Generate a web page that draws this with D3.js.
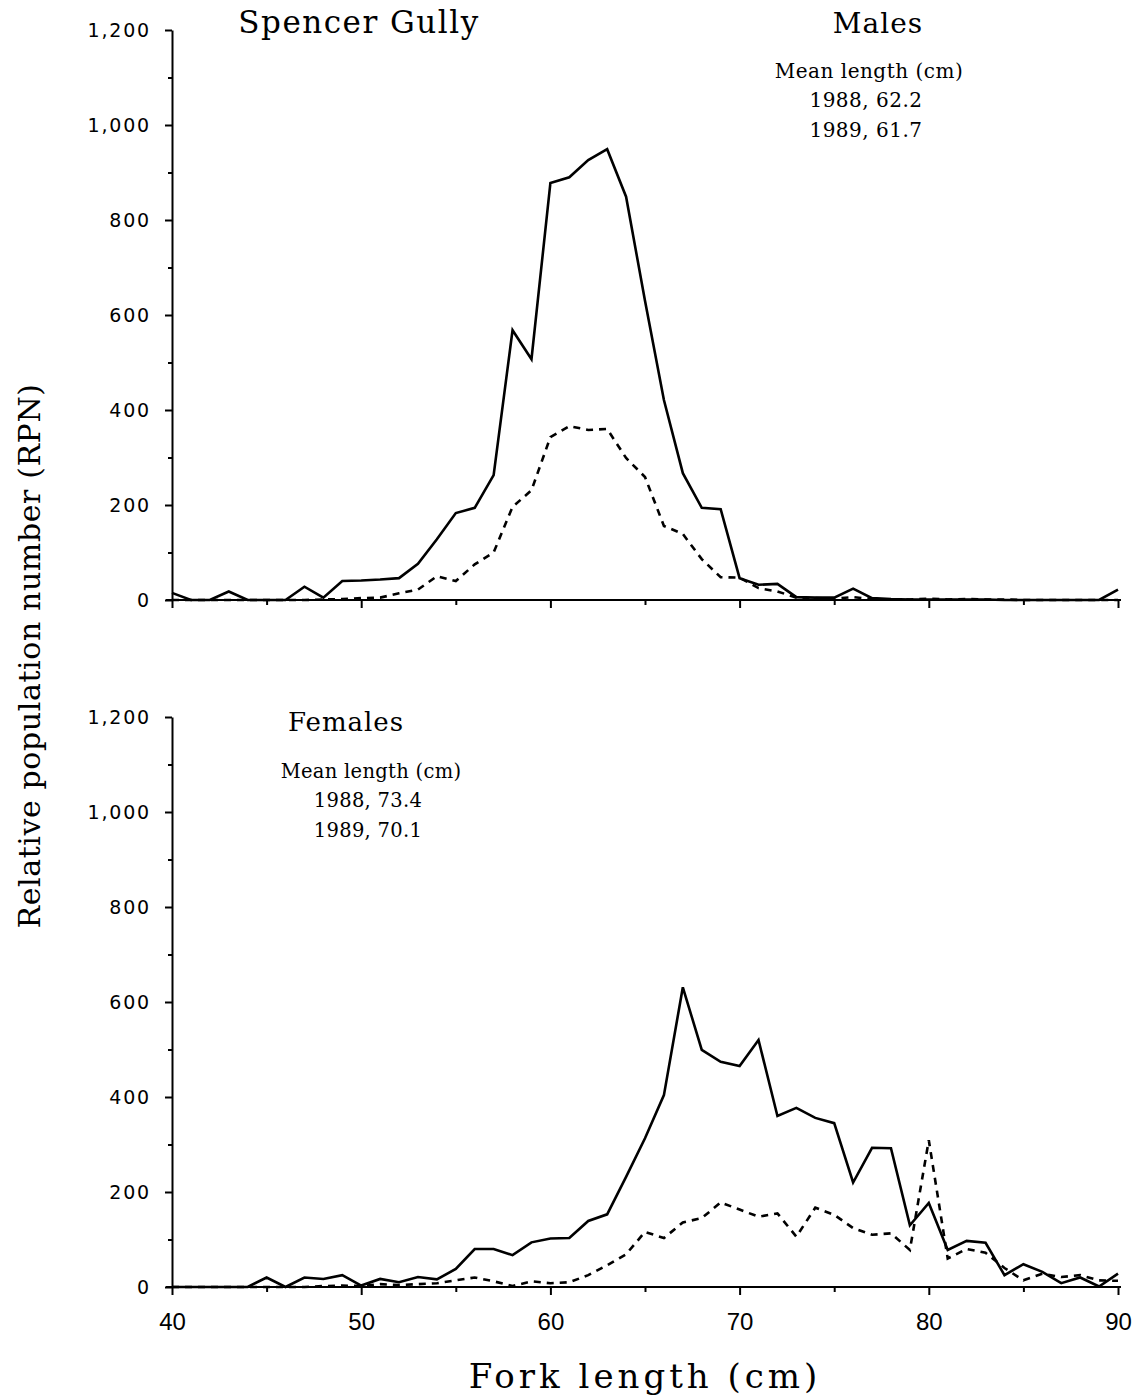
<!DOCTYPE html>
<html>
<head>
<meta charset="utf-8">
<script src="https://cdn.jsdelivr.net/npm/d3@7"></script>
<style>
  html, body { margin: 0; padding: 0; background: #fff; }
  svg { display: block; }
  .axis path, .axis line { stroke: #000; stroke-width: 2; }
  .ytick text { font-family: "DejaVu Sans", sans-serif; font-size: 19px; letter-spacing: 1.8px; fill: #000; }
  .xtick text { font-family: "Liberation Sans Narrow", "Liberation Sans", sans-serif; font-size: 24px; fill: #000; }
  .title { font-family: "DejaVu Serif", serif; fill: #000; }
</style>
</head>
<body>
<svg id="chart" width="1134" height="1399"></svg>
<script>
// Fork length classes (cm)
const lengths = [40,41,42,43,44,45,46,47,48,49,50,51,52,53,54,55,56,57,58,59,60,
                 61,62,63,64,65,66,67,68,69,70,71,72,73,74,75,76,77,78,79,80,
                 81,82,83,84,85,86,87,88,89,90];

// Males, relative population number by length class
const males1988 = [15,0,0,18,0,0,0,28,5,40,41,43,46,76,128,183,194,263,568,507,878,
                   890,926,949,849,630,421,267,194,191,46,32,34,6,5,5,24,4,2,1,1,
                   1,1,1,0,0,0,0,0,0,22];
const males1989 = [0,0,0,0,0,0,0,0,1,2,4,5,14,22,50,40,75,100,196,231,343,
                   366,358,360,299,259,156,139,86,48,47,25,18,5,4,3,6,2,1,1,3,
                   1,2,1,1,0,0,0,0,0,0];

// Females, relative population number by length class
const females1988 = [0,0,0,0,0,20,0,20,17,25,3,17,10,21,16,38,80,80,67,94,102,
                     103,139,153,232,313,404,631,499,474,465,520,360,377,356,345,220,293,292,130,177,
                     78,97,93,25,48,32,8,20,1,28];
const females1989 = [0,0,0,0,0,0,0,0,2,3,2,6,4,6,8,14,20,12,2,12,8,
                     10,25,46,69,116,103,136,145,178,163,148,155,106,167,152,124,110,113,78,309,
                     60,80,72,40,14,28,21,25,14,13];

// Axis ticks
const yMajorTicks = [0,200,400,600,800,1000,1200];
const yMinorTicks = [100,300,500,700,900,1100];
const xMajorTicks = [40,50,60,70,80,90];
const xMinorTicks = [45,55,65,75,85];

const svg = d3.select("#chart");

const x = d3.scaleLinear().domain([40, 90]).range([172, 1118]);

const panels = [
  { top: 30, bottom: 600, solid: males1988, dashed: males1989, labels: false },
  { top: 717, bottom: 1287, solid: females1988, dashed: females1989, labels: true }
];

const line = (y) => d3.line()
  .x((d, i) => x(lengths[i]))
  .y(d => y(d));

panels.forEach(p => {
  const y = d3.scaleLinear().domain([0, 1200]).range([p.bottom, p.top]);
  const g = svg.append("g");

  // y axis: labelled major ticks plus unlabelled minor ticks
  g.append("g").attr("class", "axis ytick")
    .attr("transform", `translate(${x(40)},0)`)
    .call(d3.axisLeft(y).tickValues(yMajorTicks).tickFormat(d3.format(",")).tickSize(7).tickPadding(14).tickSizeOuter(0));
  g.append("g").attr("class", "axis")
    .attr("transform", `translate(${x(40)},0)`)
    .call(d3.axisLeft(y).tickValues(yMinorTicks).tickFormat("").tickSize(4).tickSizeOuter(0))
    .select(".domain").remove();

  // x axis
  const xa = g.append("g").attr("class", "axis xtick")
    .attr("transform", `translate(0,${p.bottom})`)
    .call(d3.axisBottom(x).tickValues(xMajorTicks).tickSize(8).tickPadding(18).tickSizeOuter(0)
      .tickFormat(p.labels ? d3.format("d") : ""));
  xa.select(".domain").attr("d", `M${x(40) - 6},0H${x(90) + 3}`);
  g.append("g").attr("class", "axis")
    .attr("transform", `translate(0,${p.bottom})`)
    .call(d3.axisBottom(x).tickValues(xMinorTicks).tickFormat("").tickSize(5).tickSizeOuter(0))
    .select(".domain").remove();

  // 1988 series (solid) and 1989 series (dashed)
  g.append("path").datum(p.solid)
    .attr("d", line(y))
    .attr("fill", "none").attr("stroke", "#000").attr("stroke-width", 2.6)
    .attr("stroke-linejoin", "miter");
  g.append("path").datum(p.dashed)
    .attr("d", line(y))
    .attr("fill", "none").attr("stroke", "#000").attr("stroke-width", 2.6)
    .attr("stroke-dasharray", "7,6");
});

// Titles and annotations
const txt = (t, px, py, size, spacing = 0) =>
  svg.append("text").attr("class", "title")
    .attr("x", px).attr("y", py)
    .attr("text-anchor", "middle")
    .attr("font-size", size)
    .attr("letter-spacing", spacing)
    .text(t);

txt("Spencer Gully", 359, 33, 31, 1.5);
txt("Males", 878, 33, 28, 1);
txt("Mean length (cm)", 869, 78, 20, 0.5);
txt("1988, 62.2", 866, 107, 20, 0.5);
txt("1989, 61.7", 866, 137, 20, 0.5);

txt("Females", 346, 731, 26, 1);
txt("Mean length (cm)", 371, 778, 19.5, 0.3);
txt("1988, 73.4", 368, 807, 19.5, 0.3);
txt("1989, 70.1", 368, 837, 19.5, 0.3);

txt("Fork length (cm)", 645, 1388, 34, 4);

svg.append("text").attr("class", "title")
  .attr("transform", "translate(40,656) rotate(-90)")
  .attr("text-anchor", "middle")
  .attr("font-size", 30)
  .attr("letter-spacing", 0.6)
  .text("Relative population number (RPN)");
</script>
</body>
</html>
